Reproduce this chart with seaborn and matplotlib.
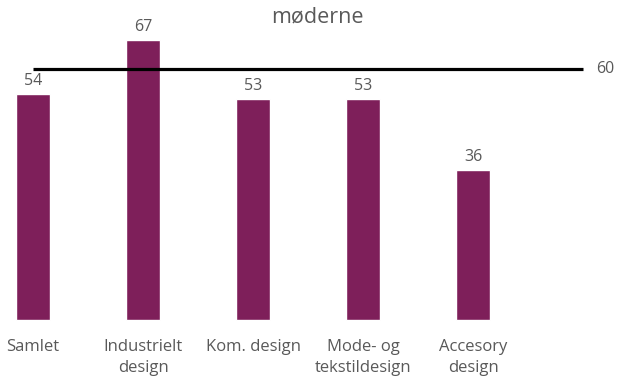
import matplotlib
matplotlib.use("Agg")
import matplotlib.pyplot as plt
import seaborn as sns
import pandas as pd

categories = ["Samlet", "Industrielt\ndesign", "Kom. design", "Mode- og\ntekstildesign", "Accesory\ndesign"]
scores = [54, 67, 53, 53, 36]
target = 60
title = "møderne"

sns.set_theme(style="white")
plt.rcParams["font.family"] = ["Open Sans", "DejaVu Sans"]

bar_color = "#7E1F5A"
text_color = "#595959"

df = pd.DataFrame({"kategori": categories, "score": scores})

fig = plt.figure(figsize=(6.17, 3.76), dpi=100)
ax = fig.add_axes([0, 0, 1, 1])

sns.barplot(data=df, x="kategori", y="score", color=bar_color, width=0.31,
            saturation=1, ax=ax)

# reference line across all categories
ax.plot([0, len(categories)], [target, target], color="black", lw=2.3,
        solid_capstyle="butt")
ax.text(len(categories) + 0.2, target, str(target), ha="center", va="center",
        fontsize=11.5, color=text_color)

for i, v in enumerate(scores):
    ax.text(i, v + 3.1, str(v), ha="center", va="center", fontsize=11.5,
            color=text_color)

ax.set_xlim(-0.3, 5.309)
ax.set_ylim(-13.4, 76.6)
ax.set_yticks([])
ax.set_xlabel("")
ax.set_ylabel("")
for s in ax.spines.values():
    s.set_visible(False)
ax.patch.set_alpha(0)

# category labels below the bars
ax.set_xticks(range(len(categories)))
ax.set_xticklabels([])
for i, c in enumerate(categories):
    ax.text(i, -4.5, c, ha="center", va="top", fontsize=12,
            color=text_color, linespacing=1.45)

fig.text(317 / 617, 1 - 17 / 376, title, ha="center", va="center",
         fontsize=15.5, color=text_color)

fig.savefig("out.png", dpi=100)
